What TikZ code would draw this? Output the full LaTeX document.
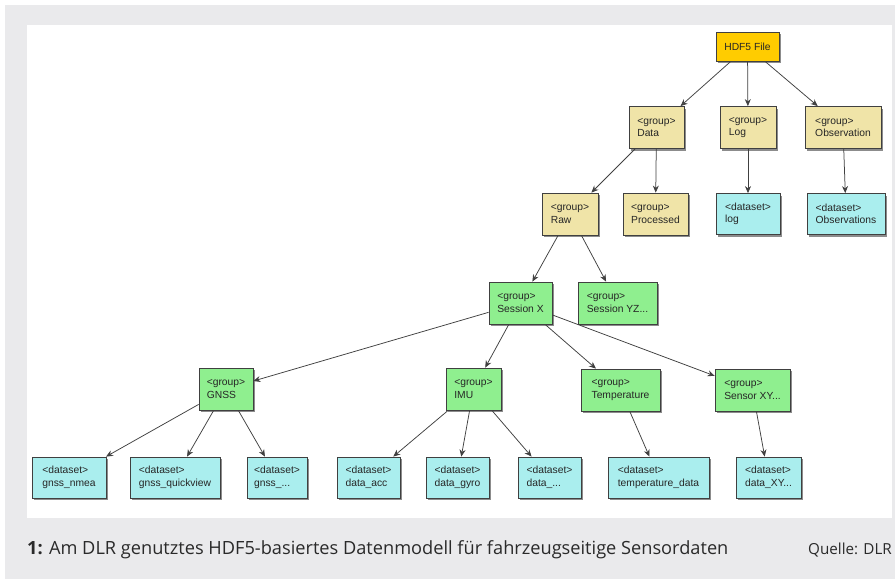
\documentclass[tikz,border=0pt]{standalone}
\usepackage{fontspec}
\setmainfont{Liberation Sans}
\newfontfamily\capfont{Open Sans}
\usetikzlibrary{arrows.meta,shadows}
\definecolor{bggray}{HTML}{EAEAEC}
\definecolor{hdfcol}{HTML}{FFCC00}
\definecolor{grpcol}{HTML}{F0E4A8}
\definecolor{grncol}{HTML}{8FEF8F}
\definecolor{dscol}{HTML}{AAEEEE}
\definecolor{edgecol}{HTML}{404040}
\definecolor{capcol}{HTML}{2A2A2A}
\tikzset{
  box/.style={draw=black!75, line width=0.8pt, rectangle, minimum height=42, inner sep=0pt,
    align=left, font=\fontsize{10.3}{12.5}\selectfont, text=black!85,
    drop shadow={shadow xshift=2pt, shadow yshift=-2pt, opacity=0.45, fill=black}},
  hdfbox/.style={box, fill=hdfcol, minimum height=29, align=center},
  grpbox/.style={box, fill=grpcol},
  grnbox/.style={box, fill=grncol},
  dsbox/.style={box, fill=dscol, minimum height=41},
  conn/.style={draw=edgecol, line width=0.75pt, -{Stealth[length=7pt,width=6pt]}},
}
\begin{document}
\begin{tikzpicture}[x=1pt,y=-1pt]
\useasboundingbox (0,0) rectangle (895,579);
\fill[white] (0,0) rectangle (895,579);
\fill[bggray] (5,5) rectangle (895,579);
\fill[white] (27,25) rectangle (892,518);

% level 0
\node[hdfbox, minimum width=63] (hdf) at (747.5,46.5) {HDF5 File};
% level 1
\node[grpbox, minimum width=55] (data) at (656.5,127.5) {<group>\\Data};
\node[grpbox, minimum width=56] (log) at (748,127.5) {<group>\\Log};
\node[grpbox, minimum width=76] (obs) at (843,127.5) {<group>\\Observation};
% level 2
\node[grpbox, minimum width=56] (raw) at (570,214) {<group>\\Raw};
\node[grpbox, minimum width=65] (proc) at (655.5,214) {<group>\\Processed};
\node[dsbox, minimum width=64] (logds) at (748,214) {<dataset>\\log};
\node[dsbox, minimum width=78] (obsds) at (846,214) {<dataset>\\Observations};
% level 3
\node[grnbox, minimum width=63] (sx) at (520.5,303) {<group>\\Session X};
\node[grnbox, minimum width=79] (syz) at (617.5,303) {<group>\\Session YZ...};
% level 4
\node[grnbox, minimum width=54] (gnss) at (226,389) {<group>\\GNSS};
\node[grnbox, minimum width=55] (imu) at (473.5,389) {<group>\\IMU};
\node[grnbox, minimum width=79] (temp) at (620.5,390) {<group>\\Temperature};
\node[grnbox, minimum width=75] (sens) at (752.5,390) {<group>\\Sensor XY...};
% level 5
\node[dsbox, minimum width=74] (nmea) at (69,477.5) {<dataset>\\gnss\_nmea};
\node[dsbox, minimum width=90] (quick) at (175,477.5) {<dataset>\\gnss\_quickview};
\node[dsbox, minimum width=60] (gdots) at (277,477.5) {<dataset>\\gnss\_...};
\node[dsbox, minimum width=63] (acc) at (368.5,477.5) {<dataset>\\data\_acc};
\node[dsbox, minimum width=63] (gyro) at (457.5,477.5) {<dataset>\\data\_gyro};
\node[dsbox, minimum width=63] (ddots) at (549.5,477.5) {<dataset>\\data\_...};
\node[dsbox, minimum width=101] (tdata) at (658.5,477.5) {<dataset>\\temperature\_data};
\node[dsbox, minimum width=65] (xy) at (768.5,477.5) {<dataset>\\data\_XY...};

% connectors
\draw[conn] (hdf) -- (data);
\draw[conn] (hdf) -- (log);
\draw[conn] (hdf) -- (obs);
\draw[conn] (data) -- (raw);
\draw[conn] (data) -- (proc);
\draw[conn] (log) -- (logds);
\draw[conn] (obs) -- (obsds);
\draw[conn] (raw) -- (sx);
\draw[conn] (raw) -- (syz);
\draw[conn] (sx) -- (gnss);
\draw[conn] (sx) -- (imu);
\draw[conn] (sx) -- (temp);
\draw[conn] (sx) -- (sens);
\draw[conn] (gnss) -- (nmea);
\draw[conn] (gnss) -- (quick);
\draw[conn] (gnss) -- (gdots);
\draw[conn] (imu) -- (acc);
\draw[conn] (imu) -- (gyro);
\draw[conn] (imu) -- (ddots);
\draw[conn] (temp) -- (tdata);
\draw[conn] (sens) -- (xy);

% caption
\node[anchor=base west, inner sep=0pt, text=capcol, font=\capfont\fontsize{18.2}{21}\selectfont] (cap) at (27,554) {\textbf{1:} Am DLR genutztes HDF5-basiertes Datenmodell für fahrzeugseitige Sensordaten};
\node[anchor=base east, inner sep=0pt, text=capcol, font=\capfont\fontsize{15.2}{18}\selectfont] (src) at (892,554) {Quelle: DLR};
\end{tikzpicture}
\end{document}
